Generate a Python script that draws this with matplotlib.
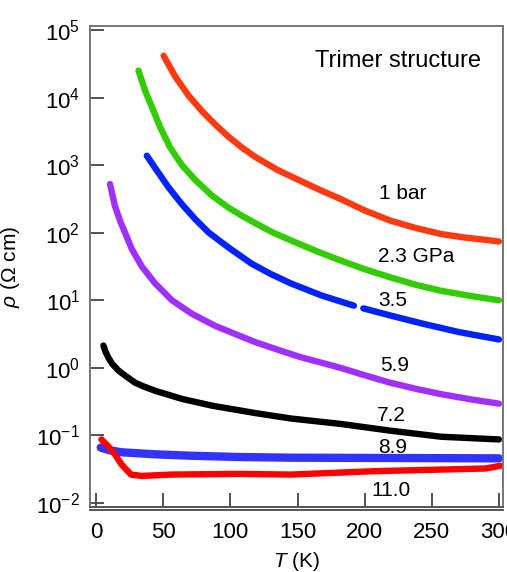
import numpy as np
import matplotlib
matplotlib.use("Agg")
import matplotlib.pyplot as plt
from matplotlib.ticker import FixedLocator, FuncFormatter

plt.rcParams['font.family'] = ['Liberation Sans', 'DejaVu Sans']
plt.rcParams['mathtext.fontset'] = 'custom'
plt.rcParams['mathtext.rm'] = 'Liberation Sans'
plt.rcParams['mathtext.it'] = 'Liberation Sans:italic'
plt.rcParams['axes.unicode_minus'] = False

# ---- data (T in K, log10 of rho in Ohm cm) ----
labels = ["1 bar", "2.3 GPa", "3.5", "5.9", "7.2", "8.9", "11.0"]
colors = ["#ff3a10", "#33cc00", "#0022ff", "#a030ff", "#000000", "#3333ff", "#ff0000"]

T_1bar = [50.3, 59, 68.9, 78.9, 88.8, 98.7, 108.7, 118.7, 135, 152, 167, 182, 200, 219, 238, 257, 274, 292, 300]
L_1bar = [4.62, 4.31, 4.03, 3.80, 3.60, 3.42, 3.26, 3.12, 2.93, 2.77, 2.63, 2.50, 2.33, 2.18, 2.07, 1.98, 1.93, 1.89, 1.87]

T_23 = [31.6, 36.6, 41.6, 47.8, 55.2, 64, 73.9, 86.3, 98.7, 108.7, 118.7, 132, 147, 165, 182, 200, 219, 238, 257, 280, 300]
L_23 = [4.40, 4.10, 3.86, 3.56, 3.26, 3.00, 2.78, 2.55, 2.37, 2.25, 2.14, 2.00, 1.87, 1.72, 1.59, 1.46, 1.34, 1.23, 1.14, 1.06, 1.00]

T_35 = [37.8, 45.3, 54, 64, 73.9, 84, 98.7, 116, 130, 145, 168, 192, 196, 199, 222, 244, 270, 300]
L_35 = [3.14, 2.92, 2.67, 2.42, 2.20, 2.00, 1.78, 1.54, 1.39, 1.25, 1.07, 0.92, np.nan, 0.88, 0.76, 0.65, 0.53, 0.42]

T_59 = [10.4, 14, 18, 21.6, 26.6, 34.1, 44, 56.5, 71.4, 88.8, 103.7, 118.7, 135, 152, 167, 182, 200, 219, 238, 257, 280, 300]
L_59 = [2.72, 2.40, 2.17, 2.00, 1.76, 1.50, 1.25, 1.00, 0.80, 0.62, 0.50, 0.38, 0.27, 0.16, 0.08, 0.00, -0.11, -0.22, -0.31, -0.39, -0.47, -0.53]

T_72 = [5.5, 7, 9.2, 12, 16.7, 22, 29.1, 36, 44, 64, 86.3, 118.7, 145, 182, 219, 257, 300]
L_72 = [0.33, 0.24, 0.15, 0.06, -0.04, -0.12, -0.22, -0.28, -0.34, -0.46, -0.56, -0.67, -0.75, -0.83, -0.93, -1.02, -1.06]

T_89 = [3.5, 10, 19, 44, 69, 106, 145, 300]
L_89 = [-1.18, -1.22, -1.25, -1.28, -1.30, -1.32, -1.33, -1.34]

T_110 = [4, 9, 14, 19, 26, 34, 56, 106, 145, 207, 269, 290, 301]
L_110 = [-1.06, -1.16, -1.28, -1.43, -1.58, -1.60, -1.58, -1.57, -1.58, -1.53, -1.50, -1.49, -1.45]

series_T = [T_1bar, T_23, T_35, T_59, T_72, T_89, T_110]
series_L = [L_1bar, L_23, L_35, L_59, L_72, L_89, L_110]

# label positions (T, log10 rho at baseline)
label_T = [228, 238.4, 220.9, 222.4, 220.1, 220.5, 219.3]
label_L = [2.50, 1.56, 0.92, -0.044, -0.785, -1.255, -1.896]

x_ticks = [0, 50, 100, 150, 200, 250, 300]
y_exps = [-2, -1, 0, 1, 2, 3, 4, 5]

fig = plt.figure(figsize=(5.07, 5.72), dpi=100)
ax = fig.add_axes([90/507, 1-507/572, (503-90)/507, (507-26)/572])

for T, L, c, lab in zip(series_T, series_L, colors, labels):
    lw = 6.0 if lab == "8.9" else 4.6
    ax.plot(T, 10**np.array(L, dtype=float), color=c, lw=lw,
            solid_capstyle='round', solid_joinstyle='round')

for lab, tx, ty in zip(labels, label_T, label_L):
    ax.text(tx, 10**ty, lab, ha='center', va='baseline', fontsize=15)

ax.text(224.6, 10**4.449, "Trimer structure", ha='center', va='baseline', fontsize=17)

ax.set_yscale('log')
ax.set_xlim(-4.5, 303)
ax.set_ylim(10**-2.06, 10**5.06)
ax.xaxis.set_major_locator(FixedLocator(x_ticks))
ax.yaxis.set_major_locator(FixedLocator([10.0**e for e in y_exps]))
ax.yaxis.set_minor_locator(FixedLocator([]))
ax.yaxis.set_major_formatter(FuncFormatter(lambda v, p: r'$10^{%d}$' % int(round(np.log10(v)))))

ax.tick_params(which='major', direction='in', length=10, width=1.3, color='#444444',
               labelsize=16, pad=7)
ax.tick_params(axis='x', pad=11)
for s in ax.spines.values():
    s.set_color('#777777')
    s.set_linewidth(1.4)
ax.spines['bottom'].set_color('#555555')
ax.plot([0, 1], [-0.006, -0.006], transform=ax.transAxes, color='#555555', lw=1.4, clip_on=False)

ax.set_xlabel(r'$T$ (K)', fontsize=15)
ax.set_ylabel(r'$\rho$ ($\Omega$ cm)', fontsize=15)
ax.yaxis.set_label_coords(-0.165, 0.5)
ax.xaxis.set_label_coords(0.5, -0.09)

fig.savefig("out.png", dpi=100)
